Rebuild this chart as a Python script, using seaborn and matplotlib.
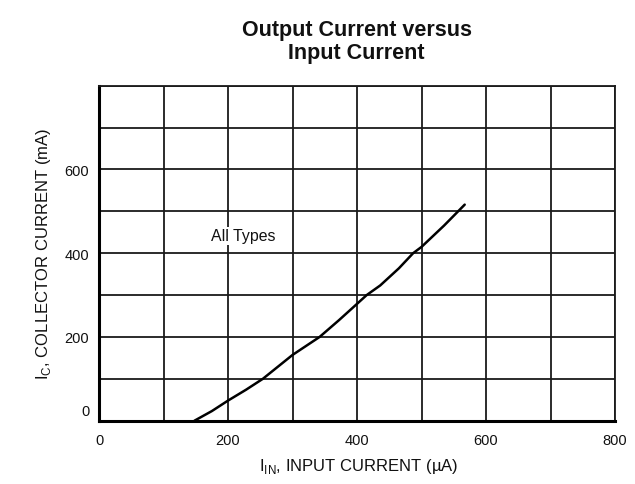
import matplotlib

matplotlib.use("Agg")

import matplotlib.pyplot as plt
import pandas as pd
import seaborn as sns
from matplotlib.transforms import ScaledTranslation

# values
input_current = [148, 175, 200, 228, 254, 300, 342, 372, 400, 415, 436, 465, 487, 500, 535, 567]
collector_current = [0, 23, 48, 74, 100, 157, 200, 240, 279, 300, 323, 364, 400, 415, 466, 516]

x_ticks = [0, 200, 400, 600, 800]
y_ticks = [0, 200, 400, 600]
grid_step = 100

TITLE = "Output Current versus\nInput Current"
X_LABEL = "I$_\\mathregular{IN}$, INPUT CURRENT (\u00b5A)"
Y_LABEL = "I$_\\mathregular{C}$, COLLECTOR CURRENT (mA)"
NOTE = "All Types"


def main() -> None:
    sns.set_theme(style="white")
    plt.rcParams["font.family"] = ["Liberation Sans", "DejaVu Sans"]
    plt.rcParams["mathtext.fontset"] = "custom"
    plt.rcParams["mathtext.rm"] = "Liberation Sans"

    data = pd.DataFrame({"iin": input_current, "ic": collector_current})

    fig = plt.figure(figsize=(6.35, 4.85), dpi=100)
    ax = fig.add_axes([99 / 635, 1 - 421.7 / 485, 516 / 635, 335 / 485])

    sns.lineplot(data=data, x="iin", y="ic", color="black", linewidth=1.8, ax=ax)

    ax.set_xlim(0, 800)
    ax.set_ylim(0, 800)
    ax.set_xticks(x_ticks)
    ax.set_yticks(y_ticks)
    ax.set_xticks(range(0, 801, grid_step), minor=True)
    ax.set_yticks(range(0, 801, grid_step), minor=True)
    ax.grid(which="both", color="#1a1a1a", linewidth=1.3)
    ax.set_axisbelow(True)
    ax.tick_params(which="both", length=0, labelsize=10.5, colors="#111111")
    ax.tick_params(axis="x", pad=9)
    ax.tick_params(axis="y", pad=7)

    for side in ["top", "right"]:
        ax.spines[side].set_linewidth(1.3)
        ax.spines[side].set_color("#1a1a1a")
    for side in ["left", "bottom"]:
        ax.spines[side].set_linewidth(2.2)
        ax.spines[side].set_color("black")

    # the zero label on the y axis sits a little above the corner
    zero_label = ax.yaxis.get_major_ticks()[0].label1
    zero_label.set_transform(
        zero_label.get_transform() + ScaledTranslation(0, 8 / 72, fig.dpi_scale_trans)
    )

    ax.set_xlabel(X_LABEL, fontsize=12, color="#111111")
    ax.set_ylabel(Y_LABEL, fontsize=12, color="#111111")
    ax.xaxis.set_label_coords(0.504, -0.105)
    ax.yaxis.set_label_coords(-0.09, 0.5)

    ax.text(223, 442, NOTE, ha="center", va="center", fontsize=11.4,
            color="#111111", bbox=dict(facecolor="white", edgecolor="none", pad=1.0))

    fig.text(356.5 / 635, 1 - 42 / 485, TITLE, ha="center", va="center",
             fontsize=15.5, fontweight="bold", linespacing=1.12, color="#111111")

    fig.savefig("out.png", dpi=100, facecolor="white")
    plt.close(fig)


if __name__ == "__main__":
    main()
